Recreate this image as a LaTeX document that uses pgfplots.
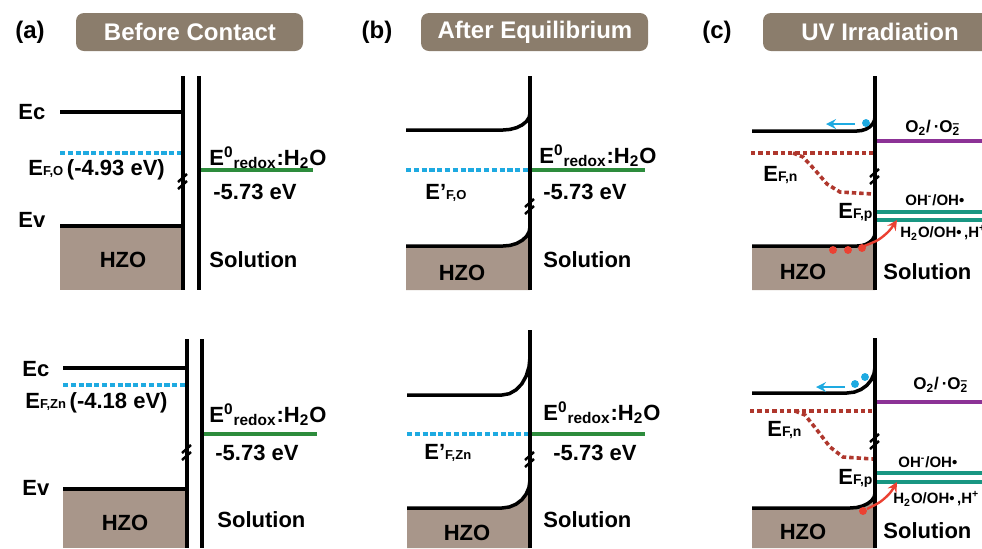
\documentclass[border=0pt]{standalone}
\usepackage{pgfplots}
\pgfplotsset{compat=1.18}
\usepackage{fontspec}
\setmainfont{Liberation Sans}
\definecolor{boxbrown}{RGB}{139,125,108}
\definecolor{hzo}{RGB}{168,150,138}
\definecolor{fblue}{RGB}{30,170,225}
\definecolor{rgreen}{RGB}{45,140,60}
\definecolor{opurple}{RGB}{140,50,150}
\definecolor{oteal}{RGB}{25,150,130}
\definecolor{dred}{RGB}{175,55,45}
\definecolor{bred}{RGB}{235,65,50}
\newcommand\sm[1]{{\fontsize{6.5}{7}\selectfont #1}}
\newcommand\redox{E\textsuperscript{0}\textsubscript{redox}:H\textsubscript{2}O}
\tikzset{
  lab/.style={font=\fontsize{11}{13}\selectfont\bfseries, inner sep=0pt},
  slab/.style={font=\fontsize{7.5}{9}\selectfont\bfseries, inner sep=0pt},
  ttl/.style={font=\fontsize{12}{14}\selectfont\bfseries, inner sep=0pt},
  band/.style={black, line width=1.75pt, line join=round},
  wall/.style={black, line width=1.6pt},
  brk/.style={black, line width=1.25pt},
  fermi/.style={fblue, line width=1.8pt, dash pattern=on 2.6pt off 1.3pt},
  quasi/.style={dred, line width=1.8pt, dash pattern=on 2.2pt off 1.5pt}}
\begin{document}
\begin{tikzpicture}
\begin{axis}[hide axis, scale only axis, width=491pt, height=274pt,
  xmin=0, xmax=982, ymin=0, ymax=548, y dir=reverse, clip=true]

% ---------- title boxes ----------
\addplot[fill=boxbrown, draw=none, rounded corners=4pt] coordinates {(76,13) (303,13) (303,51) (76,51)} -- cycle;
\addplot[fill=boxbrown, draw=none, rounded corners=4pt] coordinates {(421,13) (648,13) (648,51) (421,51)} -- cycle;
\addplot[fill=boxbrown, draw=none, rounded corners=4pt] coordinates {(763,13) (995,13) (995,51) (763,51)} -- cycle;
\node[ttl, text=white] at (190,32) {Before Contact};
\node[ttl, text=white] at (535,32) {After Equilibrium};
\node[ttl, text=white] at (880,32) {UV Irradiation};
\node[ttl] at (30,32) {(a)};
\node[ttl] at (377,32) {(b)};
\node[ttl] at (717,32) {(c)};

% ---------- (a) top ----------
\addplot[fill=hzo, draw=none] coordinates {(60,226) (183,226) (183,290) (60,290)} -- cycle;
\addplot[band] coordinates {(60,112) (183,112)};
\addplot[band] coordinates {(60,226) (183,226)};
\addplot[fermi] coordinates {(60,153) (183,153)};
\addplot[rgreen, line width=1.6pt] coordinates {(200,170) (313,170)};
\addplot[wall] coordinates {(183,76) (183,290)};
\addplot[wall] coordinates {(199,76) (199,290)};
\addplot[brk] coordinates {(178,182) (187,174)};
\addplot[brk] coordinates {(178,189) (187,181)};
\node[lab, anchor=west] at (18,112) {Ec};
\node[lab, anchor=west] at (18,220) {Ev};
\node[lab, anchor=west] at (28,170) {E\sm{F,O}\,(-4.93 eV)};
\node[lab, anchor=base west] at (209,165) {\redox};
\node[lab, anchor=west] at (213,192) {-5.73 eV};
\node[lab, anchor=west] at (209,260) {Solution};
\node[lab] at (123,260) {HZO};

% ---------- (a) bottom ----------
\addplot[fill=hzo, draw=none] coordinates {(63,489) (187,489) (187,548) (63,548)} -- cycle;
\addplot[band] coordinates {(63,368) (187,368)};
\addplot[band] coordinates {(63,489) (187,489)};
\addplot[fermi] coordinates {(63,385) (187,385)};
\addplot[rgreen, line width=1.6pt] coordinates {(203,434) (317,434)};
\addplot[wall] coordinates {(187,339) (187,548)};
\addplot[wall] coordinates {(202,339) (202,548)};
\addplot[brk] coordinates {(182,453) (191,445)};
\addplot[brk] coordinates {(182,460) (191,452)};
\node[lab, anchor=west] at (22,369) {Ec};
\node[lab, anchor=west] at (22,488) {Ev};
\node[lab, anchor=west] at (25,403) {E\sm{F,Zn}\,(-4.18 eV)};
\node[lab, anchor=base west] at (209,422) {\redox};
\node[lab, anchor=west] at (215,453) {-5.73 eV};
\node[lab, anchor=west] at (217,520) {Solution};
\node[lab] at (125,523) {HZO};

% ---------- (b) top ----------
\addplot[fill=hzo, draw=none] coordinates {(406,246) (503,246) (510,245.4) (516.5,243.5) (522.1,240.4) (526.4,236.5) (529.1,231.9) (530,227) (530,290) (406,290)} -- cycle;
\addplot[band] coordinates {(406,130) (503,130) (510,129.4) (516.5,127.7) (522.1,125) (526.4,121.5) (529.1,117.4) (530,113)};
\addplot[band] coordinates {(406,246) (503,246) (510,245.4) (516.5,243.5) (522.1,240.4) (526.4,236.5) (529.1,231.9) (530,227)};
\addplot[fermi] coordinates {(406,170) (530,170)};
\addplot[rgreen, line width=1.6pt] coordinates {(530,170) (645,170)};
\addplot[wall] coordinates {(530,76) (530,290)};
\addplot[brk] coordinates {(525,207) (534,199)};
\addplot[brk] coordinates {(525,214) (534,206)};
\node[lab, anchor=west] at (425,193) {E’\sm{F,O}};
\node[lab, anchor=base west] at (539,163) {\redox};
\node[lab, anchor=west] at (543,192) {-5.73 eV};
\node[lab, anchor=west] at (543,260) {Solution};
\node[lab] at (462,273) {HZO};

% ---------- (b) bottom ----------
\addplot[fill=hzo, draw=none] coordinates {(407,508) (502,508) (509.3,507) (516,504.2) (521.8,499.8) (526.2,494) (529,487.3) (530,480) (530,548) (407,548)} -- cycle;
\addplot[band] coordinates {(407,395) (502,395) (509.3,393.7) (516,389.9) (521.8,383.9) (526.2,376) (529,366.8) (530,357)};
\addplot[band] coordinates {(407,508) (502,508) (509.3,507) (516,504.2) (521.8,499.8) (526.2,494) (529,487.3) (530,480)};
\addplot[fermi] coordinates {(407,434) (530,434)};
\addplot[rgreen, line width=1.6pt] coordinates {(530,434) (645,434)};
\addplot[wall] coordinates {(530,330) (530,548)};
\addplot[brk] coordinates {(525,460) (534,452)};
\addplot[brk] coordinates {(525,467) (534,459)};
\node[lab, anchor=west] at (424,453) {E’\sm{F,Zn}};
\node[lab, anchor=base west] at (543,420) {\redox};
\node[lab, anchor=west] at (553,453) {-5.73 eV};
\node[lab, anchor=west] at (543,520) {Solution};
\node[lab] at (467,533) {HZO};

% ---------- (c) top ----------
\addplot[fill=hzo, draw=none] coordinates {(752,246) (857,246) (861.7,245.6) (866,244.3) (869.7,242.2) (872.6,239.5) (874.4,236.4) (875,233) (875,290) (752,290)} -- cycle;
\addplot[band] coordinates {(752,131) (857,131) (861.7,130.5) (866,129.1) (869.7,126.9) (872.6,124) (874.4,120.6) (875,117)};
\addplot[band] coordinates {(752,246) (857,246) (861.7,245.6) (866,244.3) (869.7,242.2) (872.6,239.5) (874.4,236.4) (875,233)};
\addplot[quasi] coordinates {(751,153) (873,153)};
\addplot[quasi] coordinates {(793,153) (803,157) (815,170) (827,184) (840,192) (873,194)};
\addplot[opurple, line width=1.6pt] coordinates {(875,141) (982,141)};
\addplot[oteal, line width=1.6pt] coordinates {(875,212) (982,212)};
\addplot[oteal, line width=1.6pt] coordinates {(875,220) (982,220)};
\addplot[wall] coordinates {(875,76) (875,290)};
\addplot[brk] coordinates {(870,177) (879,169)};
\addplot[brk] coordinates {(870,184) (879,176)};
\addplot[fblue, line width=1.2pt, -stealth] coordinates {(855,124) (826,124)};
\addplot[only marks, mark=*, mark size=1.75pt, fblue] coordinates {(866,123)};
\addplot[only marks, mark=*, mark size=1.75pt, bred] coordinates {(833,250) (848,250) (862,248)};
\addplot[bred, line width=1.2pt, smooth, -stealth] coordinates {(864,246) (878,240) (889,231) (897,220)};
\node[slab, anchor=west, font=\fontsize{8.5}{10}\selectfont\bfseries] at (905,128) {O\textsubscript{2}/\,·O\rlap{\textsubscript{2}}\textsuperscript{–}};
\node[lab, anchor=west] at (763,175) {E{\fontsize{7}{8}\selectfont F,n}};
\node[slab, anchor=west] at (905,200) {OH\textsuperscript{-}/OH•};
\node[lab, anchor=west] at (838,212) {E{\fontsize{7}{8}\selectfont F,p}};
\node[slab, anchor=west] at (900,233) {H\textsubscript{2}O/OH•\,,H\textsuperscript{+}};
\node[lab, anchor=west] at (883,272) {Solution};
\node[lab] at (803,272) {HZO};

% ---------- (c) bottom ----------
\addplot[fill=hzo, draw=none] coordinates {(752,508) (850,508) (856.5,507.5) (862.5,506) (867.7,503.6) (871.7,500.5) (874.2,496.9) (875,493) (875,548) (752,548)} -- cycle;
\addplot[band] coordinates {(752,393) (847,393) (854.3,392.1) (861,389.5) (866.8,385.4) (871.2,380) (874,373.7) (875,367)};
\addplot[band] coordinates {(752,508) (850,508) (856.5,507.5) (862.5,506) (867.7,503.6) (871.7,500.5) (874.2,496.9) (875,493)};
\addplot[quasi] coordinates {(750,411) (872,411)};
\addplot[quasi] coordinates {(795,411) (805,415) (817,430) (830,447) (843,457) (873,459)};
\addplot[opurple, line width=1.6pt] coordinates {(875,402) (982,402)};
\addplot[oteal, line width=1.6pt] coordinates {(875,473) (982,473)};
\addplot[oteal, line width=1.6pt] coordinates {(875,482) (982,482)};
\addplot[wall] coordinates {(875,338) (875,548)};
\addplot[brk] coordinates {(870,442) (879,434)};
\addplot[brk] coordinates {(870,449) (879,441)};
\addplot[fblue, line width=1.2pt, -stealth] coordinates {(845,387) (816,387)};
\addplot[only marks, mark=*, mark size=1.75pt, fblue] coordinates {(855,384) (865,377)};
\addplot[only marks, mark=*, mark size=1.75pt, bred] coordinates {(863,511)};
\addplot[bred, line width=1.2pt, smooth, -stealth] coordinates {(867,509) (880,502) (890,493) (897,482)};
\node[slab, anchor=west, font=\fontsize{8.5}{10}\selectfont\bfseries] at (913,385) {O\textsubscript{2}/\,·O\rlap{\textsubscript{2}}\textsuperscript{–}};
\node[lab, anchor=west] at (767,430) {E{\fontsize{7}{8}\selectfont F,n}};
\node[slab, anchor=west] at (898,462) {OH\textsuperscript{-}/OH•};
\node[lab, anchor=west] at (838,478) {E{\fontsize{7}{8}\selectfont F,p}};
\node[slab, anchor=west] at (893,499) {H\textsubscript{2}O/OH•\,,H\textsuperscript{+}};
\node[lab, anchor=west] at (883,531) {Solution};
\node[lab] at (803,532) {HZO};
\end{axis}
\pgfresetboundingbox
\useasboundingbox (current axis.south west) rectangle (current axis.north east);
\end{tikzpicture}
\end{document}
